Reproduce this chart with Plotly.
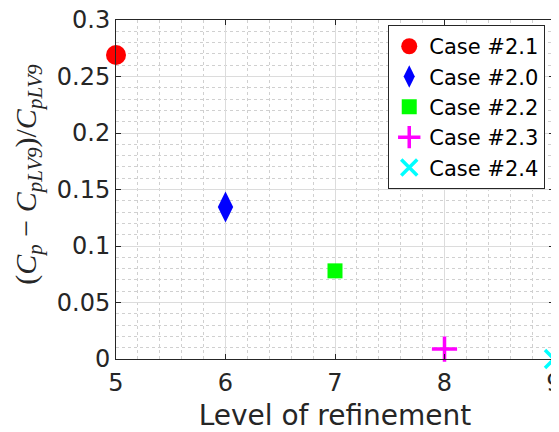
import plotly.graph_objects as go

# data
cases = ['Case #2.1', 'Case #2.0', 'Case #2.2', 'Case #2.3', 'Case #2.4']
levels = [5, 6, 7, 8, 9]
rel_err = [0.269, 0.1345, 0.078, 0.0088, 0.0]

symbols = ['circle', 'diamond-tall', 'square', 'cross-thin', 'x-thin']
colors = ['#ff0000', '#0000ff', '#00ff00', '#ff00ff', '#00ffff']
sizes = [20, 22, 15, 18, 18]

fig = go.Figure()
for name, x, y, sym, col, sz in zip(cases, levels, rel_err, symbols, colors, sizes):
    fig.add_trace(go.Scatter(
        x=[x], y=[y], mode='markers', name=name, cliponaxis=False,
        marker=dict(symbol=sym, color=col, size=sz,
                    line=dict(color=col, width=3.5 if 'thin' in sym else 0))))

axis_common = dict(
    showline=True, linecolor='#262626', linewidth=1, mirror='ticks',
    ticks='inside', ticklen=5, tickcolor='#262626',
    showgrid=True, gridcolor='#dcdcdc', gridwidth=1, zeroline=False,
    tickfont=dict(family='DejaVu Sans', size=24, color='#262626'),
    ticklabeloverflow='allow', automargin=False,
)

fig.update_xaxes(
    range=[5, 9], dtick=1, ticklabelstandoff=2,
    minor=dict(dtick=0.2, showgrid=True, griddash='dot', gridcolor='#d0d0d0', ticks=''),
    title=dict(text='Level of refinement', standoff=17,
               font=dict(family='DejaVu Sans', size=28, color='#262626')),
    **axis_common)
fig.update_yaxes(
    range=[0, 0.3], dtick=0.05,
    minor=dict(dtick=0.01, showgrid=True, griddash='dot', gridcolor='#d0d0d0', ticks=''),
    **axis_common)

# y label as a rotated annotation so it can sit a bit above the axis centre like the original
fig.add_annotation(
    text='(<i>C<sub>p</sub></i> − <i>C<sub>pLV9</sub></i>)/<i>C<sub>pLV9</sub></i>',
    xref='paper', yref='paper', x=-0.2, y=0.545, xanchor='center', yanchor='middle',
    textangle=-90, showarrow=False,
    font=dict(family='Liberation Serif', size=30, color='#262626'))

# page body has an 8px margin, so the figure is shrunk and shifted to fit the window
fig.update_layout(
    width=551, height=424,
    margin=dict(l=108, r=5, t=12, b=73),
    paper_bgcolor='white', plot_bgcolor='white',
    legend=dict(x=0.98, y=0.985, xanchor='right', yanchor='top',
                bgcolor='white', bordercolor='#262626', borderwidth=1,
                font=dict(family='DejaVu Sans', size=21, color='#000000'),
                tracegroupgap=0),
)

fig.write_html("out.html")
